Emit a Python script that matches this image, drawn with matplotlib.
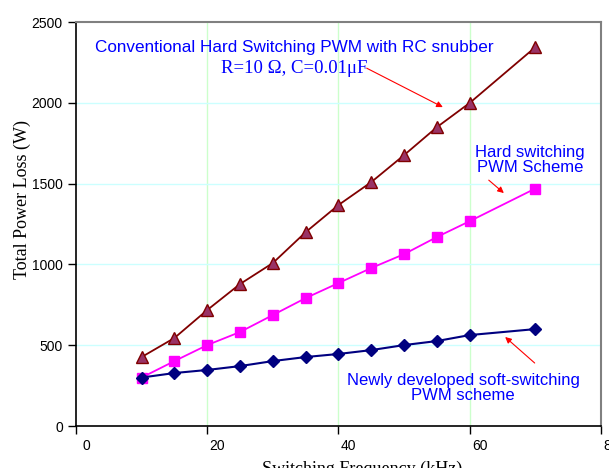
import matplotlib
matplotlib.use("Agg")
import matplotlib.pyplot as plt
import matplotlib.transforms as mtransforms

# data
freq_khz = [10, 15, 20, 25, 30, 35, 40, 45, 50, 55, 60, 70]
loss_rc_snubber = [427, 545, 718, 879, 1009, 1200, 1368, 1510, 1677, 1850, 2000, 2345]
loss_hard = [300, 402, 501, 582, 687, 792, 885, 978, 1064, 1170, 1268, 1470]
loss_soft = [300, 328, 347, 371, 402, 427, 446, 470, 501, 526, 563, 600]

x_ticks = [0, 20, 40, 60, 80]
y_ticks = [0, 500, 1000, 1500, 2000, 2500]

sans = "Liberation Sans"
serif = "Liberation Serif"
text_blue = "#0000FF"

fig = plt.figure(figsize=(6.09, 4.68), dpi=100)
ax = fig.add_axes([0.1248, 0.0897, 0.862, 0.863])

# grid
for xv in x_ticks[1:-1]:
    ax.axvline(xv, color="#CCFFCC", lw=1.0, zorder=0)
for yv in y_ticks[1:-1]:
    ax.axhline(yv, color="#CCFFFF", lw=1.0, zorder=0)

ax.plot(freq_khz, loss_rc_snubber, color="#800000", lw=1.3, marker="^",
        markersize=9, markerfacecolor="#993366", markeredgecolor="#800000",
        markeredgewidth=1.0, zorder=3)
ax.plot(freq_khz, loss_hard, color="#FF00FF", lw=1.3, marker="s",
        markersize=7, markerfacecolor="#FF00FF", markeredgecolor="#FF00FF", zorder=3)
ax.plot(freq_khz, loss_soft, color="#000080", lw=1.5, marker="D",
        markersize=6, markerfacecolor="#000080", markeredgecolor="#000080", zorder=4)

ax.set_xlim(0, 80)
ax.set_ylim(0, 2500)
ax.set_xticks(x_ticks)
ax.set_yticks(y_ticks)
ax.tick_params(direction="out", length=6, width=1, labelsize=10, colors="black")
for lbl in ax.get_xticklabels() + ax.get_yticklabels():
    lbl.set_family(sans)

# x tick labels sit a little right of their ticks in the original
offset = mtransforms.ScaledTranslation(10 / 100, 0, fig.dpi_scale_trans)
for lbl in ax.get_xticklabels():
    lbl.set_transform(lbl.get_transform() + offset)

ax.spines["left"].set_color("black")
ax.spines["bottom"].set_color("black")
ax.spines["left"].set_linewidth(1.2)
ax.spines["bottom"].set_linewidth(1.2)
ax.spines["top"].set_color("#808080")
ax.spines["right"].set_color("#808080")
ax.spines["top"].set_linewidth(1.5)
ax.spines["right"].set_linewidth(1.5)

ax.set_ylabel("Total Power Loss (W)", fontsize=13, family=serif)
ax.yaxis.set_label_coords(-0.085, 0.56)
ax.set_xlabel("Switching Frequency (kHz)", fontsize=13, family=serif)
ax.xaxis.set_label_coords(0.545, -0.085)

arrow = dict(arrowstyle="-|>", color="red", lw=0.8, mutation_scale=9,
             shrinkA=0, shrinkB=0)

ax.text(33.2, 2345, "Conventional Hard Switching PWM with RC snubber",
        ha="center", va="center", fontsize=12.3, color=text_blue, family=sans)
ax.text(33.3, 2212, "R=10 Ω, C=0.01μF", ha="center", va="center",
        fontsize=13.5, color=text_blue, family=serif)
ax.annotate("", xy=(55.9, 1974), xytext=(44.3, 2215), arrowprops=arrow)

ax.text(69.2, 1646, "Hard switching\nPWM Scheme", ha="center", va="center",
        fontsize=12, color=text_blue, family=sans, linespacing=1.05)
ax.annotate("", xy=(65.2, 1442), xytext=(62.9, 1522), arrowprops=arrow)

ax.text(59.0, 235, "Newly developed soft-switching\nPWM scheme", ha="center",
        va="center", fontsize=12, color=text_blue, family=sans, linespacing=1.05)
ax.annotate("", xy=(65.4, 551), xytext=(69.9, 390), arrowprops=arrow)

fig.savefig("out.png", dpi=100)
plt.close(fig)
